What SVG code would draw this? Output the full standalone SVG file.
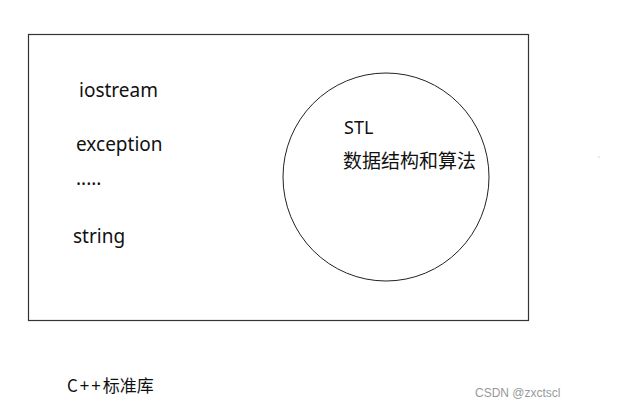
<svg xmlns="http://www.w3.org/2000/svg" width="635" height="407" viewBox="0 0 635 407">
<style>
.t{font-family:"Noto Sans","Noto Sans CJK SC",sans-serif;fill:#111}
.c{font-family:"Noto Sans CJK SC","Noto Sans",sans-serif;fill:#111}
</style>
<rect width="635" height="407" fill="#fff"/>
<g id="std-lib">
<rect x="28.5" y="34.5" width="500" height="286" fill="none" stroke="#333" stroke-width="1.2"/>
<text class="t" x="79" y="97" font-size="19">iostream</text>
<text class="t" x="76" y="151" font-size="19">exception</text>
<text class="t" x="76" y="185" font-size="19">.....</text>
<text class="t" x="73" y="243" font-size="19">string</text>
</g>
<g id="stl">
<ellipse cx="386" cy="177" rx="103" ry="104" fill="none" stroke="#222" stroke-width="1"/>
<text class="t" x="344" y="134" font-size="18">STL</text>
<text class="c" x="343" y="168" font-size="19">数据结构和算法</text>
</g>
<g id="connectors"></g>
<circle cx="599" cy="157" r="0.6" fill="#999"/>
<text class="c" x="67" y="392" font-size="17"><tspan letter-spacing="2">C++</tspan>标准库</text>
<text x="475" y="397" font-family="Liberation Sans,sans-serif" font-size="12" fill="#999">CSDN @zxctscl</text>
</svg>
